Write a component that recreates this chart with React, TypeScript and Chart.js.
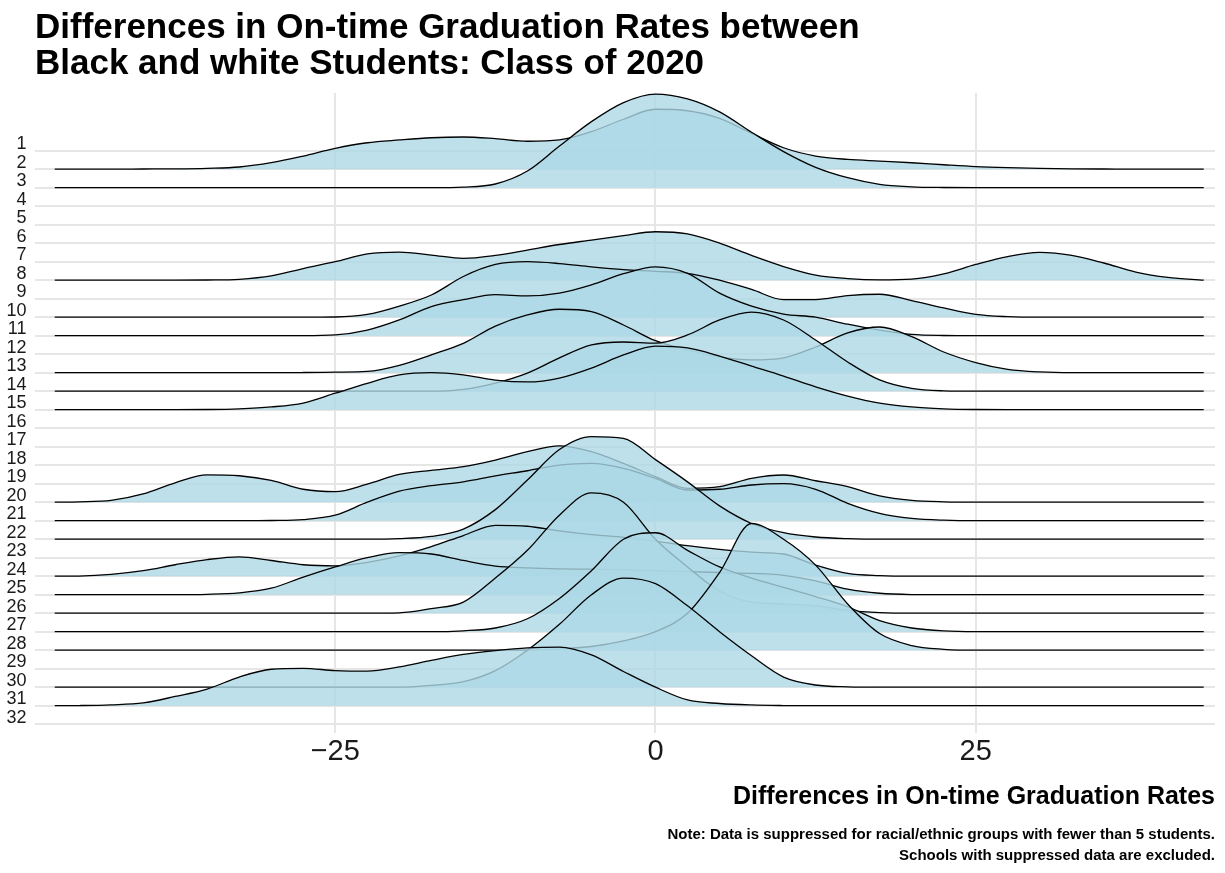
import React, { useEffect, useRef } from "react";
import { Chart, registerables } from "chart.js";

Chart.register(...registerables);

const FONT = "'Liberation Sans', Arial, Helvetica, sans-serif";

const rowLabels = [
  "1", "2", "3", "4", "5", "6", "7", "8", "9", "10", "11", "12", "13", "14", "15", "16",
  "17", "18", "19", "20", "21", "22", "23", "24", "25", "26", "27", "28", "29", "30", "31", "32",
];
const xTicks = [-25, 0, 25];
const titleLines = [
  "Differences in On-time Graduation Rates between",
  "Black and white Students: Class of 2020",
];
const xTitle = "Differences in On-time Graduation Rates";
const noteLines = [
  "Note: Data is suppressed for racial/ethnic groups with fewer than 5 students.",
  "Schools with suppressed data are excluded.",
];

// x positions where ridge heights were read
const xGrid = [
  -46.9, -45, -42.5, -40, -37.5, -35, -32.5, -30, -27.5, -25, -22.5, -20, -17.5, -15, -12.5, -10,
  -7.5, -5, -2.5, 0, 2.5, 5, 7.5, 10, 12.5, 15, 17.5, 20, 22.5, 25, 27.5, 30, 32.5, 35, 37.5, 40, 42.8,
];

// ridge heights (in row units) per ridge
const r02 = [0, 0, 0, 0.01, 0.02, 0.05, 0.12, 0.35, 0.71, 1.13, 1.43, 1.58, 1.7, 1.74, 1.65, 1.51, 1.58, 2.03, 2.7, 3.24, 3.16, 2.75, 1.94, 1.16, 0.71, 0.53, 0.44, 0.35, 0.24, 0.14, 0.08, 0.04, 0.02, 0.01, 0, 0, 0];
const r03 = [0, 0, 0, 0, 0, 0, 0, 0, 0, 0, 0, 0, 0, 0.03, 0.2, 0.9, 2.25, 3.57, 4.6, 5.06, 4.8, 4.1, 3.0, 1.95, 1.1, 0.54, 0.18, 0.05, 0.01, 0, 0, 0, 0, 0, 0, 0, 0];
const r08 = [0, 0, 0, 0, 0, 0.01, 0.05, 0.23, 0.63, 1.0, 1.42, 1.52, 1.36, 1.18, 1.34, 1.63, 1.93, 2.17, 2.41, 2.62, 2.5, 2.0, 1.34, 0.74, 0.28, 0.09, 0.02, 0.06, 0.34, 0.85, 1.28, 1.5, 1.34, 0.93, 0.44, 0.15, 0];
const r10 = [0, 0, 0, 0, 0, 0, 0, 0, 0, 0.01, 0.15, 0.6, 1.2, 2.2, 2.85, 3.0, 2.9, 2.72, 2.57, 2.48, 2.37, 2.0, 1.5, 0.95, 0.95, 1.17, 1.24, 0.9, 0.5, 0.15, 0.03, 0, 0, 0, 0, 0, 0];
const r11 = [0, 0, 0, 0, 0, 0, 0, 0, 0, 0.04, 0.3, 0.85, 1.57, 1.95, 2.22, 2.15, 2.3, 2.75, 3.35, 3.72, 3.37, 2.3, 1.6, 1.17, 1.0, 0.62, 0.3, 0.07, 0.01, 0, 0, 0, 0, 0, 0, 0, 0];
const r13 = [0, 0, 0, 0, 0, 0, 0, 0, 0.01, 0.03, 0.07, 0.4, 0.97, 1.59, 2.52, 3.12, 3.43, 3.3, 2.58, 1.73, 1.23, 0.85, 0.69, 0.8, 1.39, 2.15, 2.47, 1.95, 1.12, 0.55, 0.18, 0.04, 0, 0, 0, 0, 0];
const r14 = [0, 0, 0, 0, 0, 0, 0, 0, 0, 0, 0, 0, 0, 0.1, 0.44, 0.98, 1.8, 2.5, 2.66, 2.6, 3.04, 3.85, 4.28, 3.85, 2.77, 1.58, 0.61, 0.15, 0.02, 0, 0, 0, 0, 0, 0, 0, 0];
const r15 = [0, 0, 0, 0, 0, 0.01, 0.05, 0.15, 0.36, 0.89, 1.43, 1.88, 2.0, 1.88, 1.6, 1.5, 1.71, 2.25, 2.96, 3.44, 3.34, 2.9, 2.36, 1.82, 1.24, 0.74, 0.36, 0.15, 0.05, 0.01, 0, 0, 0, 0, 0, 0, 0];
const r20 = [0, 0.02, 0.1, 0.45, 1.05, 1.48, 1.43, 1.18, 0.7, 0.57, 0.98, 1.5, 1.72, 1.92, 2.28, 2.73, 3.04, 2.73, 2.1, 1.38, 0.75, 0.84, 1.29, 1.47, 1.16, 0.84, 0.34, 0.1, 0.02, 0, 0, 0, 0, 0, 0, 0, 0];
const r21 = [0, 0, 0, 0, 0, 0, 0, 0.01, 0.06, 0.3, 1.0, 1.6, 1.9, 2.1, 2.42, 2.7, 3.01, 3.1, 2.83, 2.29, 1.66, 1.7, 1.93, 2.0, 1.7, 0.94, 0.4, 0.13, 0.03, 0, 0, 0, 0, 0, 0, 0, 0];
const r22 = [0, 0, 0, 0, 0, 0, 0, 0, 0, 0, 0, 0.03, 0.15, 0.55, 1.6, 3.2, 4.85, 5.55, 5.45, 4.3, 3.1, 1.8, 0.85, 0.35, 0.12, 0.03, 0, 0, 0, 0, 0, 0, 0, 0, 0, 0, 0];
const r24 = [0, 0.01, 0.1, 0.3, 0.62, 0.9, 1.05, 0.85, 0.62, 0.56, 0.75, 1.1, 1.6, 2.2, 2.75, 2.7, 2.45, 2.25, 2.1, 1.9, 1.65, 1.45, 1.3, 1.2, 0.6, 0.15, 0.03, 0, 0, 0, 0, 0, 0, 0, 0, 0, 0];
const r25 = [0, 0, 0, 0, 0, 0.02, 0.1, 0.35, 0.95, 1.5, 2.0, 2.27, 2.2, 1.85, 1.55, 1.45, 1.4, 1.38, 1.35, 1.3, 1.25, 1.2, 1.15, 1.05, 0.75, 0.3, 0.08, 0.01, 0, 0, 0, 0, 0, 0, 0, 0, 0];
const r26 = [0, 0, 0, 0, 0, 0, 0, 0, 0, 0, 0, 0.02, 0.25, 0.6, 1.9, 3.4, 5.3, 6.5, 6.0, 4.0, 2.5, 1.2, 0.6, 0.5, 0.4, 0.15, 0.03, 0, 0, 0, 0, 0, 0, 0, 0, 0, 0];
const r27 = [0, 0, 0, 0, 0, 0, 0, 0, 0, 0, 0, 0, 0, 0.05, 0.2, 0.7, 1.8, 3.3, 5.0, 5.35, 4.4, 3.5, 2.9, 2.4, 1.9, 1.35, 0.6, 0.2, 0.04, 0, 0, 0, 0, 0, 0, 0, 0];
const r28 = [0, 0, 0, 0, 0, 0, 0, 0, 0, 0, 0, 0, 0, 0, 0, 0, 0.07, 0.2, 0.5, 1.0, 2.0, 4.2, 6.85, 6.0, 4.6, 2.5, 0.9, 0.25, 0.05, 0, 0, 0, 0, 0, 0, 0, 0];
const r30 = [0, 0, 0, 0, 0, 0, 0, 0, 0, 0, 0, 0, 0.1, 0.3, 0.9, 2.0, 3.4, 5.0, 5.9, 5.6, 4.4, 3.0, 1.7, 0.55, 0.12, 0.02, 0, 0, 0, 0, 0, 0, 0, 0, 0, 0, 0];
const r31 = [0, 0.01, 0.05, 0.15, 0.5, 0.9, 1.55, 1.97, 2.02, 1.9, 1.87, 2.1, 2.45, 2.77, 2.98, 3.13, 3.17, 2.75, 1.85, 1.0, 0.31, 0.12, 0.04, 0.01, 0, 0, 0, 0, 0, 0, 0, 0, 0, 0, 0, 0, 0];

const ridgeRows = [2, 3, 8, 10, 11, 13, 14, 15, 20, 21, 22, 24, 25, 26, 27, 28, 30, 31];
const ridgeHeights = [r02, r03, r08, r10, r11, r13, r14, r15, r20, r21, r22, r24, r25, r26, r27, r28, r30, r31];

export default function App() {
  const ref = useRef<HTMLCanvasElement>(null);

  useEffect(() => {
    const canvas = ref.current;
    if (!canvas) return;

    const datasets = ridgeRows.map((row, i) => ({
      label: rowLabels[row - 1],
      data: xGrid.map((x, j) => ({ x, y: row - ridgeHeights[i][j] })),
      borderColor: "#000000",
      borderWidth: 1.3,
      backgroundColor: "rgba(173,216,230,0.8)",
      fill: { value: row },
      pointRadius: 0,
      pointHoverRadius: 0,
      cubicInterpolationMode: "monotone" as const,
      order: 100 - row,
    }));

    const chart = new Chart(canvas, {
      type: "line",
      data: { datasets },
      options: {
        animation: false,
        responsive: false,
        devicePixelRatio: 1,
        parsing: false,
        events: [],
        layout: { padding: { top: 0, left: 0, right: 10, bottom: 0 } },
        scales: {
          x: {
            type: "linear",
            min: -48.44,
            max: 43.68,
            afterBuildTicks: (s: any) => {
              s.ticks = xTicks.map((v) => ({ value: v }));
            },
            afterFit: (s: any) => {
              s.height = 80;
            },
            grid: { color: "#E6E6E6", lineWidth: 2, drawTicks: false },
            border: { display: false },
            ticks: {
              font: { family: FONT, size: 29 },
              color: "#1a1a1a",
              padding: 1.5,
              maxRotation: 0,
              autoSkip: false,
              callback: (v: any) => String(v).replace("-", "\u2212"),
            },
            title: {
              display: true,
              text: xTitle,
              align: "end",
              color: "#000000",
              font: { family: FONT, size: 25, weight: "bold" },
              padding: { top: 0, bottom: 1 },
            },
          },
          y: {
            type: "linear",
            reverse: true,
            min: -2.119,
            max: 32.475,
            afterBuildTicks: (s: any) => {
              s.ticks = rowLabels.map((_, i) => ({ value: i + 1 }));
            },
            afterFit: (s: any) => {
              s.width = 35;
            },
            grid: { color: "#E6E6E6", lineWidth: 2, drawTicks: false },
            border: { display: false },
            ticks: {
              font: { family: FONT, size: 18 },
              color: "#1a1a1a",
              padding: 8.5,
              labelOffset: -6.5,
              autoSkip: false,
              callback: (v: any) => rowLabels[Number(v) - 1],
            },
          },
        },
        plugins: {
          legend: { display: false },
          tooltip: { enabled: false },
          title: {
            display: true,
            text: titleLines,
            align: "start",
            fullSize: false,
            color: "#000000",
            font: { family: FONT, size: 35, weight: "bold", lineHeight: 1.0286 },
            padding: { top: 10, bottom: 11 },
          },
          subtitle: {
            display: true,
            position: "bottom",
            text: noteLines,
            align: "end",
            fullSize: false,
            color: "#000000",
            font: { family: FONT, size: 15, weight: "bold", lineHeight: 1.4 },
            padding: { top: 11.5, bottom: 6.5 },
          },
        },
      } as any,
    });

    return () => chart.destroy();
  }, []);

  return (
    <div style={{ position: "fixed", left: 0, top: 0, width: 1225, height: 873, background: "#ffffff" }}>
      <canvas ref={ref} width={1225} height={873} style={{ display: "block", width: 1225, height: 873 }} />
    </div>
  );
}
